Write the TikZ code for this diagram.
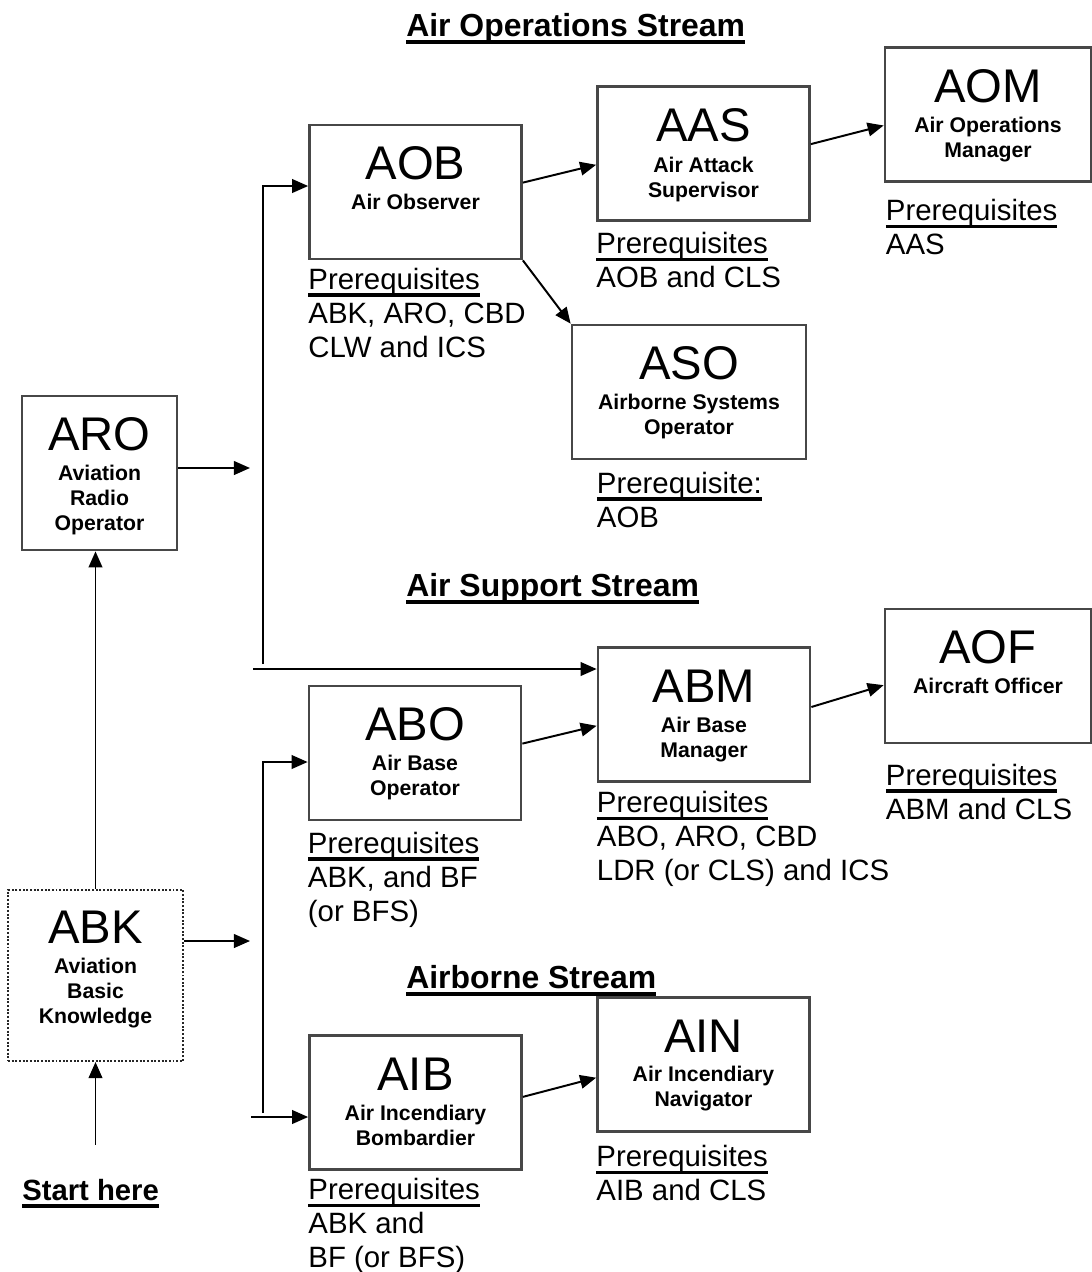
\documentclass[tikz,border=0pt]{standalone}
\usepackage{fontspec}
\setmainfont{Liberation Sans}
\usetikzlibrary{arrows.meta,positioning}

\definecolor{boxgray}{gray}{0.28}
\newsavebox{\ulsave}
\newcommand{\ulword}[1]{\sbox{\ulsave}{#1}\rlap{\rule[-0.26em]{\wd\ulsave}{0.125em}}\usebox{\ulsave}}

\begin{document}
\begin{tikzpicture}[x=0.025cm, y=-0.025cm, >={Triangle[length=0.4cm,width=0.34cm]}]

        \tikzstyle{unit}=[draw=boxgray, line width=1.9pt, minimum width=5.3cm, minimum height=3.35cm, inner sep=0pt]
        \tikzstyle{acro}=[font=\fontsize{33.6}{36}\selectfont, inner sep=0pt, anchor=base]
        \tikzstyle{fullname}=[font=\fontsize{15.1}{17.8}\bfseries, align=center, inner sep=0pt, anchor=base]
        \tikzstyle{prereq}=[font=\fontsize{20.9}{24.2}\selectfont, align=left, inner sep=0pt, anchor=base west]
        \tikzstyle{stream}=[font=\fontsize{22.7}{26}\bfseries, inner sep=0pt, anchor=base west]
        \tikzstyle{link}=[->, line width=1.4pt]

        \useasboundingbox (0,0) rectangle (1092,1272);

        % stream headings
        \node[stream] (opstream)  at (406,36)  {\ulword{Air Operations Stream}};
        \node[stream] (supstream) at (406,596) {\ulword{Air Support Stream}};
        \node[stream] (abstream)  at (406,988) {\ulword{Airborne Stream}};
        \node[stream, font=\fontsize{20.8}{24}\bfseries] (start) at (22,1200) {\ulword{Start here}};

        % course boxes
        \node[unit, draw=black!85, dash pattern=on 1.4pt off 1.2pt, line width=1.5pt, minimum width=4.375cm, minimum height=4.275cm] (abk) at (95.5,975.5) {};
        \node[unit, minimum width=3.875cm, minimum height=3.85cm] (aro) at (99.5,473) {};
        \node[unit] (aob) at (415.5,192)   {};
        \node[unit] (aas) at (703.5,153.5) {};
        \node[unit, minimum width=5.15cm] (aom) at (988,114.5) {};
        \node[unit, minimum width=5.85cm] (aso) at (689,392) {};
        \node[unit] (abo) at (415,753)     {};
        \node[unit] (abm) at (704,714.5)   {};
        \node[unit, minimum width=5.15cm] (aof) at (988,676) {};
        \node[unit] (aib) at (415.5,1102.5) {};
        \node[unit] (ain) at (703.5,1064.5) {};

        % box texts (base = last line)
        \node[acro] (abkcode) at ([yshift=-1.375cm]abk.north) {ABK};
        \node[fullname] (abkname) at ([yshift=-3.375cm]abk.north) {Aviation\\Basic\\Knowledge};
        \node[acro] (arocode) at ([yshift=-1.4cm]aro.north) {ARO};
        \node[fullname] (aroname) at ([yshift=-3.4cm]aro.north) {Aviation\\Radio\\Operator};
        \node[acro] (aobcode) at ([yshift=-1.4cm]aob.north) {AOB};
        \node[fullname] (aobname) at ([yshift=-2.15cm]aob.north) {Air Observer};
        \node[acro] (aascode) at ([yshift=-1.4cm]aas.north) {AAS};
        \node[fullname] (aasname) at ([yshift=-2.8cm]aas.north) {Air Attack\\Supervisor};
        \node[acro] (aomcode) at ([yshift=-1.4cm]aom.north) {AOM};
        \node[fullname] (aomname) at ([yshift=-2.775cm]aom.north) {Air Operations\\Manager};
        \node[acro] (asocode) at ([yshift=-1.4cm]aso.north) {ASO};
        \node[fullname] (asoname) at ([yshift=-2.775cm]aso.north) {Airborne Systems\\Operator};
        \node[acro] (abocode) at ([yshift=-1.4cm]abo.north) {ABO};
        \node[fullname] (aboname) at ([yshift=-2.775cm]abo.north) {Air Base\\Operator};
        \node[acro] (abmcode) at ([yshift=-1.4cm]abm.north) {ABM};
        \node[fullname] (abmname) at ([yshift=-2.775cm]abm.north) {Air Base\\Manager};
        \node[acro] (aofcode) at ([yshift=-1.4cm]aof.north) {AOF};
        \node[fullname] (aofname) at ([yshift=-2.15cm]aof.north) {Aircraft Officer};
        \node[acro] (aibcode) at ([yshift=-1.4cm]aib.north) {AIB};
        \node[fullname] (aibname) at ([yshift=-2.775cm]aib.north) {Air Incendiary\\Bombardier};
        \node[acro] (aincode) at ([yshift=-1.4cm]ain.north) {AIN};
        \node[fullname] (ainname) at ([yshift=-2.75cm]ain.north) {Air Incendiary\\Navigator};

        % prerequisites
        \node[prereq] (aobpre) at ([yshift=-2.425cm]aob.south west) {\ulword{Prerequisites}\\ABK, ARO, CBD\\CLW and ICS};
        \node[prereq] (aaspre) at ([yshift=-1.65cm]aas.south west) {\ulword{Prerequisites}\\AOB and CLS};
        \node[prereq] (aompre) at ([xshift=0.05cm,yshift=-1.8cm]aom.south west) {\ulword{Prerequisites}\\AAS};
        \node[prereq] (asopre) at ([xshift=0.65cm,yshift=-1.675cm]aso.south west) {\ulword{Prerequisite:}\\AOB};
        \node[prereq] (abopre) at ([yshift=-2.5cm]abo.south west) {\ulword{Prerequisites}\\ABK, and BF\\(or BFS)};
        \node[prereq] (abmpre) at ([yshift=-2.45cm]abm.south west) {\ulword{Prerequisites}\\ABO, ARO, CBD\\LDR (or CLS) and ICS};
        \node[prereq] (aofpre) at ([xshift=0.05cm,yshift=-1.875cm]aof.south west) {\ulword{Prerequisites}\\ABM and CLS};
        \node[prereq] (aibpre) at ([yshift=-2.425cm]aib.south west) {\ulword{Prerequisites}\\ABK and\\BF (or BFS)};
        \node[prereq] (ainpre) at ([yshift=-1.7cm]ain.south west) {\ulword{Prerequisites}\\AIB and CLS};

        % branch points
        \coordinate (arotip)     at (250,468);
        \coordinate (abktip)     at (250,941);
        \coordinate (upperfork)  at (263,186);
        \coordinate (upperfoot)  at (263,664);
        \coordinate (abmfeed)    at (253,669);
        \coordinate (lowerfork)  at (263,762);
        \coordinate (lowerfoot)  at (263,1113);
        \coordinate (aibfeed)    at (251,1117);

        \draw[link, shorten <=0.85cm] (start.north -| abk.south) -- (abk.south);
        \draw[link] (abk.north) -- (abk.north |- aro.south);
        \draw[link] (arotip -| aro.east) -- (arotip);
        \draw[link] (abktip -| abk.east) -- (abktip);
        \draw[link] (upperfoot) -- (upperfork) -- (upperfork -| aob.west);
        \draw[link] (abmfeed) -- (abmfeed -| abm.west);
        \draw[link] (lowerfoot) -- (lowerfork) -- (lowerfork -| abo.west);
        \draw[link] (aibfeed) -- (aibfeed -| aib.west);
        \draw[link] (aob.5) -- (aas.186);
        \draw[link] (aob.south east) -- (aso.north west);
        \draw[link] (aas.5) -- (aom.186);
        \draw[link] (abo.5) -- (abm.186);
        \draw[link] (abm.4) -- (aof.185);
        \draw[link] (aib.3) -- (ain.187);

\end{tikzpicture}
\end{document}
